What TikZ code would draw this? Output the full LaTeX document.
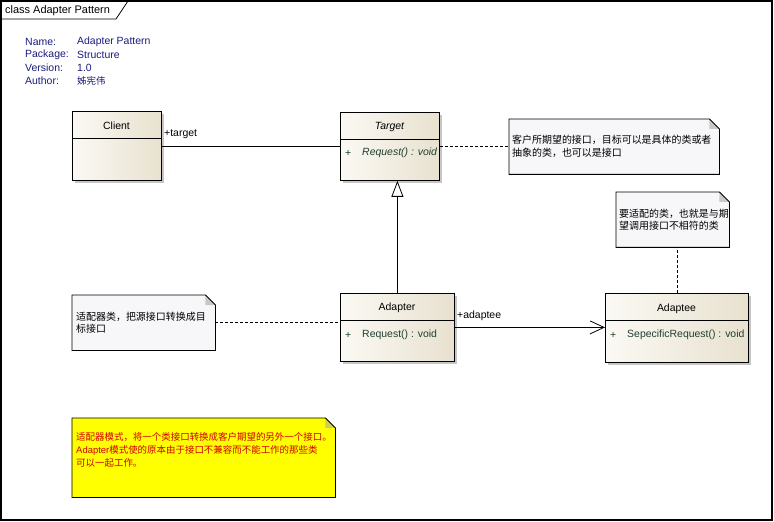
\documentclass[tikz,border=0pt]{standalone}
\usepackage{fontspec}
\setmainfont{Liberation Sans}
\newfontfamily\cjk{Noto Sans CJK SC}
\usetikzlibrary{arrows.meta,shadows}
\definecolor{boxL}{HTML}{FBF9F4}
\definecolor{boxR}{HTML}{E8E1CF}
\definecolor{notefill}{HTML}{F7F6F8}
\definecolor{foldgray}{HTML}{C8C8C8}
\definecolor{yel}{HTML}{FFFF00}
\definecolor{foldyel}{HTML}{CFCF55}
\definecolor{meta}{HTML}{1A1A80}
\definecolor{member}{HTML}{1F3F2F}
\definecolor{redtxt}{HTML}{D00000}
\newcommand\dognote[3]{%
  \filldraw[fill=#2, line width=0.8bp] (#1.north west) -- ([xshift=-10bp]#1.north east) -- ([yshift=-10bp]#1.north east) -- (#1.south east) -- (#1.south west) -- cycle;
  \fill[#3] ([xshift=-10bp]#1.north east) -- ([yshift=-10bp]#1.north east) -- ([xshift=-10bp,yshift=-10bp]#1.north east) -- cycle;
  \draw[line width=0.8bp] ([xshift=-10bp]#1.north east) -- ([yshift=-10bp]#1.north east);}
\tikzset{
  every node/.style={font=\fontsize{10.5}{13}\selectfont, inner sep=0pt},
  classbox/.style={draw=black, line width=0.8bp, left color=boxL, right color=boxR, anchor=north west,
    drop shadow={shadow xshift=3bp, shadow yshift=-3bp, fill=gray!45, opacity=1}},
  notebox/.style={draw=none, anchor=north west},
  notetext/.style={anchor=west, align=left, font=\cjk\fontsize{10}{13}\selectfont},
  metalabel/.style={anchor=west, text=meta},
  membertxt/.style={anchor=west, text=member},
  assoc/.style={line width=0.8bp},
  dashedc/.style={line width=0.8bp, dash pattern=on 3bp off 2bp},
}
\begin{document}
\begin{tikzpicture}[x=1bp,y=-1bp]
\useasboundingbox (0,0) rectangle (774,522);
% frame
\draw[line width=1.2bp] (1,1) rectangle (772,520);
\draw[line width=0.8bp] (1,19) -- (116,19) -- (128,1);
\node[anchor=west, font=\fontsize{11}{13}\selectfont] (title) at (5,11) {class Adapter Pattern};
% metadata
\node[metalabel] (mn) at (25,42) {Name:};
\node[metalabel] (mp) at (25,55) {Package:};
\node[metalabel] (mv) at (25,68) {Version:};
\node[metalabel] (ma) at (25,81) {Author:};
\node[metalabel] (vn) at (77,42) {Adapter Pattern};
\node[metalabel] (vp) at (77,55) {Structure};
\node[metalabel] (vv) at (77,68) {1.0};
\node[metalabel, font=\cjk\fontsize{9.5}{13}\selectfont] (va) at (77,81) {姊宪伟};
% Client
\node[classbox, minimum width=89bp, minimum height=69bp] (client) at (72,111) {};
\draw[line width=0.8bp] ([yshift=-27bp]client.north west) -- ([yshift=-27bp]client.north east);
\node (clientT) at (116.5,126) {Client};
% Target
\node[classbox, minimum width=99bp, minimum height=68bp] (target) at (340,112) {};
\draw[line width=0.8bp] ([yshift=-27bp]target.north west) -- ([yshift=-27bp]target.north east);
\node[font=\itshape\fontsize{10.5}{13}\selectfont] (targetT) at (389.5,127) {Target};
\node[membertxt] (targetP) at (345,153) {+};
\node[membertxt, font=\itshape\fontsize{10.5}{13}\selectfont] (targetM) at (362,153) {Request() : void};
% Adapter
\node[classbox, minimum width=114bp, minimum height=68bp] (adapter) at (340,293) {};
\draw[line width=0.8bp] ([yshift=-27bp]adapter.north west) -- ([yshift=-27bp]adapter.north east);
\node (adapterT) at (397,308) {Adapter};
\node[membertxt] (adapterP) at (345,335) {+};
\node[membertxt] (adapterM) at (362,335) {Request() : void};
% Adaptee
\node[classbox, minimum width=143bp, minimum height=69bp] (adaptee) at (605,293) {};
\draw[line width=0.8bp] ([yshift=-27bp]adaptee.north west) -- ([yshift=-27bp]adaptee.north east);
\node (adapteeT) at (676.5,309) {Adaptee};
\node[membertxt] (adapteeP) at (610,335) {+};
\node[membertxt] (adapteeM) at (627,335) {SepecificRequest() : void};
% notes
\node[notebox, minimum width=210bp, minimum height=55bp] (note1) at (509,119) {};
\dognote{note1}{notefill}{foldgray}
\node[notetext] (note1T) at ([xshift=3bp]note1.west) {客户所期望的接口，目标可以是具体的类或者\\抽象的类，也可以是接口};
\node[notebox, minimum width=113bp, minimum height=55bp] (note2) at (616,192) {};
\dognote{note2}{notefill}{foldgray}
\node[notetext] (note2T) at ([xshift=3bp]note2.west) {要适配的类，也就是与期\\望调用接口不相符的类};
\node[notebox, minimum width=143bp, minimum height=55bp] (note3) at (72,295) {};
\dognote{note3}{notefill}{foldgray}
\node[notetext] (note3T) at ([xshift=4bp]note3.west) {适配器类，把源接口转换成目\\标接口};
\node[notebox, minimum width=263bp, minimum height=79bp] (note4) at (72,418) {};
\dognote{note4}{yel}{foldyel}
\node[anchor=north west, align=left, text=redtxt, font=\cjk\fontsize{9.5}{13}\selectfont] (note4T) at (76,432)
  {适配器模式，将一个类接口转换成客户期望的另外一个接口。\\{\fontspec{Liberation Sans}Adapter}模式使的原本由于接口不兼容而不能工作的那些类\\可以一起工作。};
% connectors
\draw[assoc] (target.west) -- (target.west -| client.east);
\node[anchor=west] (lblTarget) at (164,134) {+target};
\draw[dashedc] (target.east) -- (target.east -| note1.west);
\draw[assoc, -{Triangle[open, length=16bp, width=12bp]}] (adapter.north) -- (adapter.north |- target.south);
\draw[assoc, -{Straight Barb[length=14bp, width=13bp]}] (adapter.east) -- (adapter.east -| adaptee.west);
\node[anchor=west] (lblAdaptee) at (457,316) {+adaptee};
\draw[dashedc] (adaptee.north) -- (adaptee.north |- note2.south);
\draw[dashedc] (note3.east) -- (note3.east -| adapter.west);
\end{tikzpicture}
\end{document}
